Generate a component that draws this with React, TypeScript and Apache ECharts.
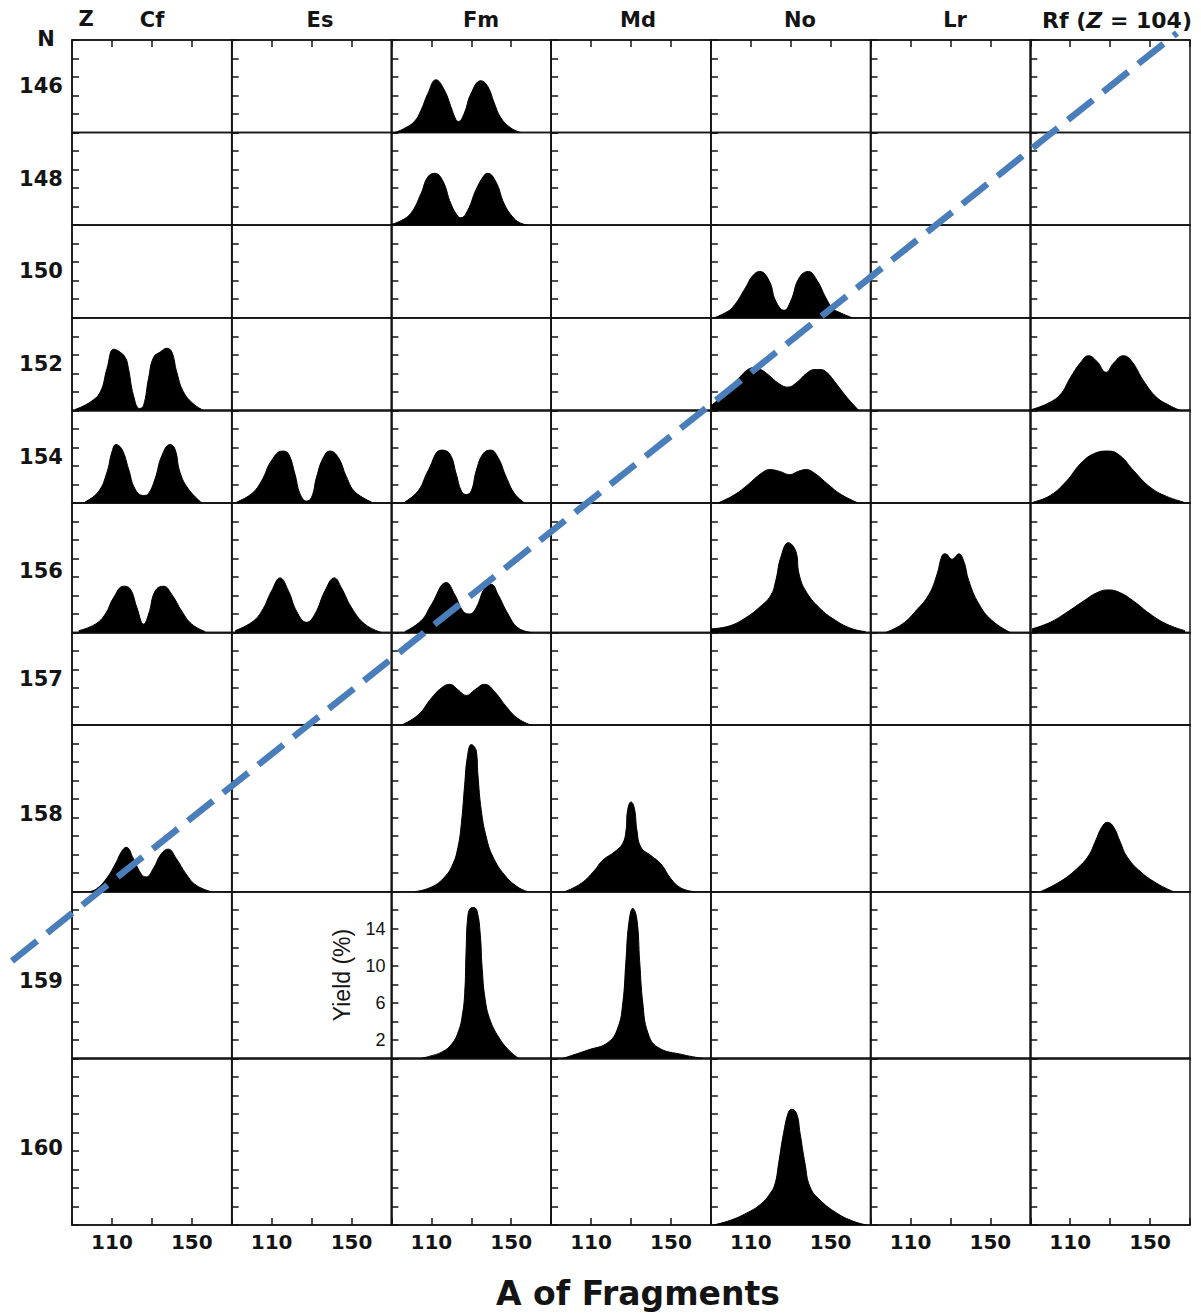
import React, { useEffect, useRef } from "react";
import * as echarts from "echarts";

// ---- Data ----
const COLUMNS = ["Cf", "Es", "Fm", "Md", "No", "Lr", "Rf"];
const ROWS_N = [146, 148, 150, 152, 154, 156, 157, 158, 159, 160];
const ROW_YMAX = [10, 10, 10, 10, 10, 14, 10, 18, 18, 18];
const X_TICK_LABELS = [110, 150];
const Y_TICK_LABELS = [2, 6, 10, 14];

// mass yield curves [A, yield %]
const fm146 = [[91.5,0],[96,0.4],[101.5,1.2],[104.8,2.4],[108.2,4.2],[112.3,5.7],[116.5,4.6],[119.8,2.8],[122.3,1.4],[123.5,1.2],[126.5,2.1],[129.8,4.2],[134.8,5.6],[138.2,5.0],[141.5,3.2],[144.8,1.6],[149.8,0.5],[154.8,0]];
const fm148 = [[90,0.1],[95,0.5],[99.8,1.3],[104.8,3.4],[108.2,5.2],[111.8,5.6],[115.7,4.8],[119.8,2.3],[123.5,0.9],[124.8,0.8],[128.2,1.6],[132.3,3.8],[136.5,5.4],[138.2,5.6],[142.3,4.7],[146.5,2.3],[150.7,0.9],[154,0.3],[158.2,0]];
const no150 = [[91.7,0],[96,0.4],[100.8,1.1],[107.5,3.3],[110.8,4.5],[114.5,5.0],[119.2,4.0],[122.5,1.8],[126.7,0.8],[130,1.8],[134.2,4.3],[138.8,5.0],[143.3,4.0],[147.5,2.2],[151,1.0],[154.2,0.6],[160.8,0]];
const cf152 = [[91.7,0.1],[99.2,0.9],[104.2,2.0],[107.5,4.5],[110.8,6.6],[113.3,6.4],[116.7,5.7],[118.3,4.5],[120.8,1.6],[123.8,0.2],[125.8,0.5],[128.3,3.4],[130.8,5.7],[134.2,6.3],[137.5,6.7],[140,6.3],[142.5,4.1],[145.8,2.0],[150.8,0.7],[155.8,0]];
const no152 = [[90,0.5],[95,1.4],[100,2.6],[105,3.7],[108.5,4.4],[111.5,4.6],[115,4.4],[119,3.8],[124,2.9],[128.5,2.5],[133,3.0],[138,4.0],[142,4.4],[145,4.4],[148,4.1],[152,3.1],[157,1.7],[161,0.7],[164,0]];
const rf152 = [[90.8,0.1],[98.3,0.7],[105,1.7],[110,3.5],[115,5.1],[119.2,5.9],[123.3,5.3],[128,4.1],[131.7,5.1],[136.7,5.9],[140.8,5.3],[146.7,3.2],[153.3,1.4],[160,0.5],[165,0]];
const cf154 = [[96.5,0.1],[103.2,1.2],[107.5,3.3],[110,5.5],[112,6.3],[115,5.8],[118.3,3.7],[121.6,1.5],[125.8,0.8],[128.3,1.0],[131.6,2.6],[135,5.1],[139.1,6.3],[141.6,5.8],[144.1,3.3],[148.3,1.5],[155,0]];
const es154 = [[92.5,0.1],[100,1.0],[105,2.4],[110,4.6],[115.4,5.6],[118.4,5.3],[121.7,3.1],[124.2,1.0],[127.5,0.2],[130,0.6],[132.5,2.8],[135.9,4.9],[139.2,5.6],[143.4,4.9],[147.5,2.8],[151.7,1.2],[160,0.1]];
const fm154 = [[96.7,0.1],[103.4,1.3],[108.4,3.5],[115,5.7],[119.2,5.3],[122.5,3.1],[125,1.3],[127.5,0.9],[130,1.3],[132.5,3.5],[135.9,5.3],[139.7,5.7],[143.4,4.9],[147.5,2.8],[151.7,1.0],[156.7,0]];
const no154 = [[93.7,0],[102,0.9],[108.7,2.0],[115.3,3.2],[119.5,3.6],[124.5,3.4],[129.5,3.05],[133.7,3.4],[137.8,3.6],[142,3.2],[148.7,2.0],[155.3,0.9],[163.7,0]];
const rf154 = [[91.7,0.1],[100,0.8],[108.3,2.4],[115,4.2],[121.7,5.3],[129.2,5.6],[135,5.1],[141.7,3.5],[150,1.7],[158.3,0.7],[166.7,0.1]];
const cf156 = [[93.4,0.2],[101.7,0.9],[106.7,2.0],[110.9,3.8],[115.9,5.0],[119.2,4.7],[122.5,2.7],[125.9,0.9],[128.4,2.0],[131.7,4.5],[135.9,5.0],[140,4.1],[145,2.3],[150,0.9],[156.7,0.1]];
const es156 = [[91.7,0.2],[100,1.1],[105,2.3],[110,4.5],[114.2,5.9],[118.4,4.5],[122.5,2.3],[127.5,1.1],[131.7,2.0],[136.7,4.5],[141.4,5.9],[145,4.8],[150,2.7],[156.7,0.9],[165,0]];
const fm156 = [[96.7,0.1],[105,1.3],[110,3.0],[117.5,5.4],[121.7,4.1],[125.9,2.3],[129.2,2.0],[132.5,2.7],[136.7,4.8],[140,5.2],[143.4,4.1],[148.4,2.0],[153.4,0.5],[160,0]];
const no156 = [[90,0.4],[99.2,0.7],[107.5,1.6],[114.2,2.7],[120,4.0],[122.5,5.6],[125,8.1],[128.8,9.7],[132.5,8.8],[134.2,6.3],[137.5,4.5],[144.2,2.7],[152.5,1.3],[160.8,0.4],[167.5,0.1]];
const lr156 = [[97.5,0],[105.8,0.9],[112.5,2.3],[119.2,4.1],[123.3,6.3],[125.8,8.3],[127.5,8.5],[130.8,7.9],[134.2,8.5],[136.7,7.7],[139.2,5.6],[144.2,3.1],[150.8,1.3],[160,0]];
const rf156 = [[90.9,0.4],[100,1.1],[108.4,2.2],[116.7,3.4],[123.4,4.3],[129.2,4.6],[135,4.3],[141.7,3.4],[150,2.0],[158.4,0.9],[167.5,0.2]];
const fm157 = [[95,0],[103.4,1.1],[110,2.9],[115,4.0],[119.2,4.4],[123.4,3.8],[127.5,3.2],[131.7,3.8],[136.7,4.4],[141.7,3.6],[147.5,2.0],[153.4,0.7],[160,0]];
const cf158 = [[98.7,0],[102.2,0.3],[107.2,1.4],[112.2,3.2],[114.7,4.3],[117.2,4.8],[120.7,3.6],[124.7,1.9],[127.2,1.6],[130.7,2.5],[134.7,4.1],[138.2,4.6],[142.2,3.6],[147.2,1.9],[152.2,0.7],[159.7,0]];
const fm158 = [[101.7,0],[110,0.5],[116.7,1.6],[120.8,3.0],[123.3,4.8],[125,7.3],[126.7,11.6],[128,14.5],[130,15.9],[132.5,15.2],[133.3,12.7],[135,8.8],[137.5,5.9],[140.8,3.8],[146.7,1.8],[153.3,0.5],[158.3,0]];
const md158 = [[96.7,0],[105,0.9],[111.7,2.3],[115.8,3.4],[121.7,4.3],[125.8,5.2],[127.5,6.6],[128.3,8.8],[130,9.7],[131.7,9.0],[133,6.6],[135,4.8],[140,3.9],[145,3.0],[150,1.4],[155,0.4],[161.7,0]];
const rf158 = [[95,0],[105,1.1],[113.4,2.5],[119.2,3.9],[122.5,5.4],[125.9,7.0],[128.7,7.5],[131.7,7.0],[135,5.4],[138.4,3.8],[145,2.2],[153.4,0.9],[161.7,0]];
const fm159 = [[105,0],[108.7,0.2],[115.4,0.7],[120.4,1.6],[123.7,3.0],[125.4,4.5],[126.7,7.0],[127.4,11.6],[128.2,15.2],[129.5,16.2],[131.2,16.3],[132.9,15.9],[134.5,13.4],[135.4,9.9],[137,6.3],[139.5,4.1],[143.7,2.3],[148.7,0.9],[153.7,0]];
const md159 = [[95.9,0],[108.4,0.9],[118.4,1.7],[123.4,3.3],[125.9,6.0],[127.4,10.3],[128.9,14.6],[130.9,16.2],[132.9,15.1],[134.4,10.3],[135.9,6.0],[138.4,2.8],[143.4,1.2],[155.9,0.4],[165.9,0]];
const no160 = [[91.4,0],[99.7,0.5],[108,1.3],[114.7,2.2],[119.7,3.4],[122.2,4.5],[123.9,6.6],[126.4,9.9],[128.9,12.2],[130.5,12.5],[133,12.0],[134.7,9.9],[137.2,6.6],[139.7,4.1],[144.7,2.7],[153,1.3],[161.4,0.4],[168,0]];

const PANELS: Record<string, number[][]> = {
  "Fm-146": fm146, "Fm-148": fm148, "No-150": no150,
  "Cf-152": cf152, "No-152": no152, "Rf-152": rf152,
  "Cf-154": cf154, "Es-154": es154, "Fm-154": fm154, "No-154": no154, "Rf-154": rf154,
  "Cf-156": cf156, "Es-156": es156, "Fm-156": fm156, "No-156": no156, "Lr-156": lr156, "Rf-156": rf156,
  "Fm-157": fm157,
  "Cf-158": cf158, "Fm-158": fm158, "Md-158": md158, "Rf-158": rf158,
  "Fm-159": fm159, "Md-159": md159,
  "No-160": no160,
};

// ---- Layout ----
const LEFT = 72, RIGHT = 1190, TOP = 40, BOTTOM = 1225;
const INK = "#141414";
const BOLD_FONT = "DejaVu Sans";

function buildOption() {
  const colW = (RIGHT - LEFT) / COLUMNS.length;
  const totalUnits = ROW_YMAX.reduce((a, b) => a + b, 0);
  const pxPerUnit = (BOTTOM - TOP) / totalUnits;
  const grids: any[] = [], xAxes: any[] = [], yAxes: any[] = [], series: any[] = [];
  const graphics: any[] = [];
  let y = TOP;
  const lastRow = ROWS_N.length - 1;
  ROWS_N.forEach((n, r) => {
    const h = ROW_YMAX[r] * pxPerUnit;
    COLUMNS.forEach((col, c) => {
      const idx = grids.length;
      grids.push({
        left: LEFT + c * colW, top: y, width: colW, height: h,
        show: true, borderColor: INK, borderWidth: 1.5, backgroundColor: "transparent",
      });
      xAxes.push({
        gridIndex: idx, type: "value", min: 90, max: 170, interval: 20,
        position: r === 0 ? "top" : "bottom",
        axisLine: { show: true, onZero: false, lineStyle: { color: INK, width: 1.5 } },
        axisTick: { show: r === 0 || r === lastRow, inside: true, length: 7, lineStyle: { color: INK, width: 1.5 } },
        axisLabel: {
          show: r === lastRow, margin: 7, color: INK, fontFamily: BOLD_FONT, fontWeight: "bold", fontSize: 20,
          formatter: (v: number) => (X_TICK_LABELS.includes(v) ? String(v) : ""),
        },
        splitLine: { show: false },
      });
      const isYieldAxis = col === "Fm" && n === 159;
      yAxes.push({
        gridIndex: idx, type: "value", min: 0, max: ROW_YMAX[r], interval: 2,
        axisLine: { show: true, onZero: false, lineStyle: { color: INK, width: 1.5 } },
        axisTick: { show: true, inside: true, length: 7, lineStyle: { color: INK, width: 1.5 } },
        axisLabel: {
          show: isYieldAxis, margin: 6, color: INK, fontFamily: "Liberation Sans", fontSize: 18,
          formatter: (v: number) => (Y_TICK_LABELS.includes(v) ? String(v) : ""),
        },
        name: isYieldAxis ? "Yield (%)" : "",
        nameLocation: "middle", nameGap: 38, nameRotate: 90,
        nameTextStyle: { color: INK, fontFamily: "Liberation Sans", fontSize: 23 },
        splitLine: { show: false },
      });
      const data = PANELS[`${col}-${n}`];
      if (data) {
        series.push({
          type: "line", xAxisIndex: idx, yAxisIndex: idx, data,
          smooth: 0.45, showSymbol: false, symbol: "none", silent: true,
          lineStyle: { color: "#000", width: 1 },
          areaStyle: { color: "#000", opacity: 1 },
        });
      }
    });
    // row label
    graphics.push({
      type: "text", x: 41, y: y + h / 2 + (ROW_YMAX[r] - 10) * 0.75,
      style: { text: String(n), fill: INK, fontFamily: BOLD_FONT, fontWeight: "bold", fontSize: 21,
        align: "center", verticalAlign: "middle", textAlign: "center", textVerticalAlign: "middle" },
    });
    y += h;
  });

  const headerX = [152, 320, 481, 638, 800, 955];
  COLUMNS.slice(0, 6).forEach((col, i) => {
    graphics.push({
      type: "text", x: headerX[i], y: 20,
      style: { text: col, fill: INK, fontFamily: BOLD_FONT, fontWeight: "bold", fontSize: 21,
        align: "center", verticalAlign: "middle", textAlign: "center", textVerticalAlign: "middle" },
    });
  });
  graphics.push({
    type: "text", x: 1117, y: 20,
    style: {
      text: "{a|Rf (}{b|Z}{a| = 104)}", fill: INK,
      fontFamily: BOLD_FONT, fontWeight: "bold", fontSize: 22,
      align: "center", verticalAlign: "middle", textAlign: "center", textVerticalAlign: "middle",
      rich: {
        a: { fontFamily: BOLD_FONT, fontWeight: "bold", fontSize: 22, fill: INK, color: INK },
        b: { fontFamily: BOLD_FONT, fontWeight: "bold", fontStyle: "italic", fontSize: 22, fill: INK, color: INK },
      },
    },
  });
  graphics.push({
    type: "text", x: 86, y: 19,
    style: { text: "Z", fill: INK, fontFamily: BOLD_FONT, fontWeight: "bold", fontSize: 21,
      align: "center", verticalAlign: "middle", textAlign: "center", textVerticalAlign: "middle" },
  });
  graphics.push({
    type: "text", x: 46, y: 39,
    style: { text: "N", fill: INK, fontFamily: BOLD_FONT, fontWeight: "bold", fontSize: 21,
      align: "center", verticalAlign: "middle", textAlign: "center", textVerticalAlign: "middle" },
  });
  graphics.push({
    type: "text", x: 638, y: 1293,
    style: { text: "A of Fragments", fill: INK, fontFamily: BOLD_FONT, fontWeight: "bold", fontSize: 33,
      align: "center", verticalAlign: "middle", textAlign: "center", textVerticalAlign: "middle" },
  });
  graphics.push({
    type: "line", z: 100,
    shape: { x1: 12, y1: 961, x2: 1177, y2: 33 },
    style: { stroke: "#4a7ebb", lineWidth: 6.5, lineDash: [32, 13] },
  });

  return {
    animation: false,
    backgroundColor: "#ffffff",
    grid: grids, xAxis: xAxes, yAxis: yAxes, series,
    graphic: { elements: graphics },
  };
}

export default function App() {
  const ref = useRef<HTMLDivElement>(null);
  useEffect(() => {
    document.body.style.margin = "0";
    document.body.style.overflow = "hidden";
    const chart = echarts.init(ref.current!, undefined, { renderer: "svg" });
    chart.setOption(buildOption() as any);
    return () => chart.dispose();
  }, []);
  return <div ref={ref} style={{ position: "absolute", left: 0, top: 0, width: 1201, height: 1314 }} />;
}
